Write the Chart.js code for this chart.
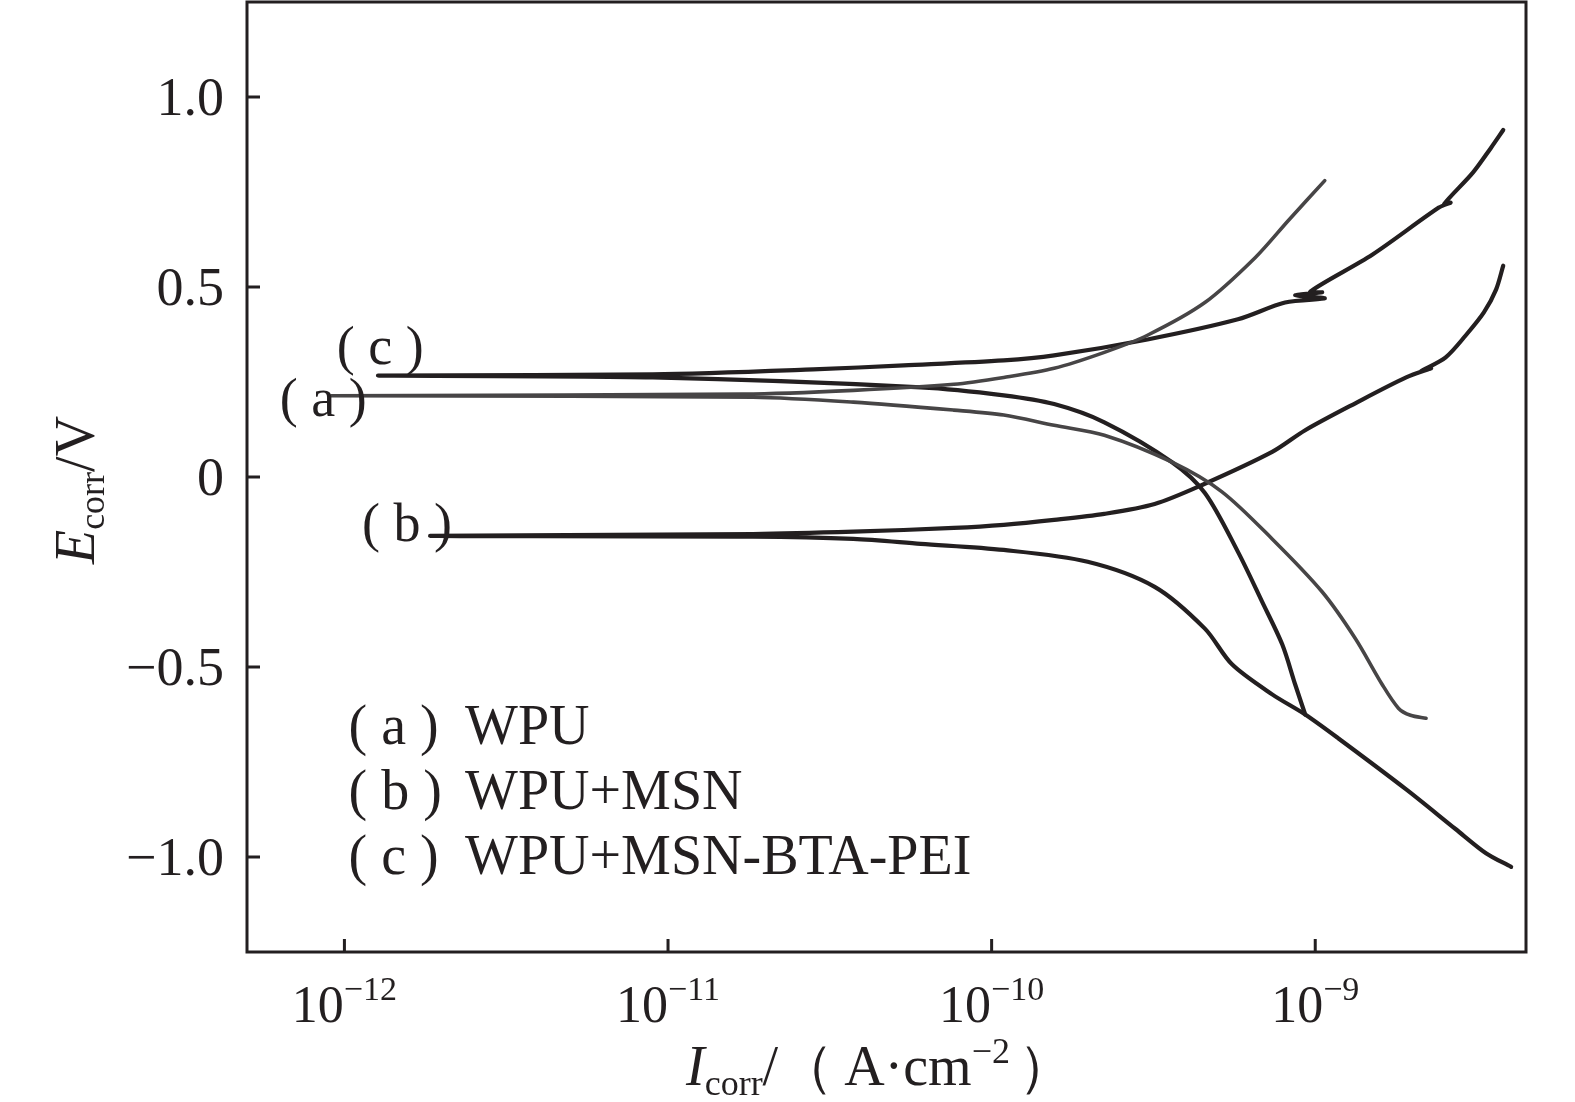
<!DOCTYPE html>
<html>
<head>
<meta charset="utf-8">
<script src="https://cdn.jsdelivr.net/npm/chart.js@4.4.1/dist/chart.umd.min.js"></script>
<style>
  html, body { margin: 0; padding: 0; background: #fff; }
  #wrap { width: 1575px; height: 1102px; position: relative; }
</style>
</head>
<body>
<div id="wrap"><canvas id="c"></canvas></div>
<script>
// ---- axis ticks ----
const xTickValues = [1e-12, 1e-11, 1e-10, 1e-9];
const xTickExponents = ['\u221212', '\u221211', '\u221210', '\u22129'];
const yTickValues = [-1.0, -0.5, 0, 0.5, 1.0];
const yTickLabels = ['\u22121.0', '\u22120.5', '0', '0.5', '1.0'];

// ---- series: current density (A/cm2) and potential (V) ----
// (a) WPU
const aAnodicI = [9.12e-13, 1.71e-11, 3.74e-11, 7.64e-11, 1.09e-10, 1.56e-10, 2.23e-10, 3.03e-10, 4.56e-10, 6.52e-10, 8.26e-10, 1.07e-9];
const aAnodicE = [0.214, 0.218, 0.228, 0.244, 0.262, 0.286, 0.328, 0.373, 0.459, 0.577, 0.675, 0.780];
const aCathodicI = [9.12e-13, 1.83e-11, 3.74e-11, 7.64e-11, 1.09e-10, 1.56e-10, 2.23e-10, 3.61e-10, 5.15e-10, 7.36e-10, 1.05e-9, 1.33e-9, 1.61e-9, 1.81e-9, 1.97e-9, 2.20e-9];
const aCathodicE = [0.214, 0.210, 0.197, 0.176, 0.163, 0.136, 0.110, 0.039, -0.039, -0.163, -0.302, -0.425, -0.546, -0.609, -0.627, -0.635];
// (b) WPU+MSN
const bAnodicI = [1.84e-12, 1.83e-11, 3.74e-11, 7.64e-11, 1.09e-10, 1.56e-10, 2.23e-10, 3.19e-10, 4.47e-10, 7.36e-10, 9.31e-10, 1.33e-9, 1.91e-9, 2.28e-9, 2.12e-9, 2.53e-9, 2.92e-9, 3.32e-9, 3.62e-9, 3.81e-9];
const bAnodicE = [-0.155, -0.150, -0.144, -0.134, -0.126, -0.113, -0.097, -0.071, -0.021, 0.066, 0.123, 0.194, 0.262, 0.286, 0.278, 0.315, 0.373, 0.433, 0.493, 0.556];
const bCathodicI = [1.84e-12, 1.83e-11, 3.74e-11, 6.04e-11, 1.09e-10, 1.98e-10, 3.19e-10, 4.56e-10, 5.53e-10, 7.36e-10, 9.31e-10, 1.18e-9, 1.91e-9, 2.72e-9, 3.37e-9, 4.03e-9];
const bCathodicE = [-0.155, -0.157, -0.163, -0.176, -0.192, -0.223, -0.289, -0.399, -0.493, -0.572, -0.625, -0.688, -0.822, -0.927, -0.990, -1.026];
// (c) WPU+MSN-BTA-PEI
const cAnodicI = [1.27e-12, 8.97e-12, 2.81e-11, 5.35e-11, 1.09e-10, 1.56e-10, 3.03e-10, 5.77e-10, 8.07e-10, 1.07e-9, 8.67e-10, 1.05e-9, 9.65e-10, 1.50e-9, 2.41e-9, 2.62e-9, 2.50e-9, 3.07e-9, 3.49e-9, 3.81e-9];
const cAnodicE = [0.267, 0.270, 0.283, 0.294, 0.307, 0.320, 0.362, 0.415, 0.459, 0.470, 0.478, 0.486, 0.488, 0.585, 0.709, 0.722, 0.718, 0.801, 0.866, 0.913];
const cCathodicI = [1.27e-12, 8.97e-12, 6.04e-11, 1.09e-10, 1.56e-10, 2.23e-10, 3.61e-10, 4.56e-10, 5.77e-10, 6.85e-10, 7.91e-10, 8.67e-10, 9.31e-10];
const cCathodicE = [0.267, 0.262, 0.236, 0.215, 0.192, 0.144, 0.039, -0.042, -0.197, -0.328, -0.441, -0.546, -0.625];

// ---- text ----
const curveTags = ['( a )', '( b )', '( c )'];
const seriesNames = ['WPU', 'WPU+MSN', 'WPU+MSN-BTA-PEI'];
// anchor (I, E) for curve tags drawn on the plot
const tagI = [8.6e-13, 1.56e-12, 1.29e-12];
const tagE = [0.197, -0.131, 0.336];
// legend text block anchors
const legendTagI = 1.03e-12;
const legendNameI = 2.36e-12;
const legendRowE = [-0.664, -0.835, -1.005];

function curve(cI, cE, aI, aE) {
  const pts = [];
  for (let i = cI.length - 1; i >= 1; i--) pts.push({x: cI[i], y: cE[i]});
  for (let i = 0; i < aI.length; i++) pts.push({x: aI[i], y: aE[i]});
  return pts;
}

const SERIF = '"Liberation Serif", "Times New Roman", serif';
const INK = '#231f20';

const drawPlugin = {
  id: 'decor',
  afterDraw(chart) {
    const {ctx, chartArea: ca, scales: {x, y}} = chart;
    ctx.save();
    ctx.strokeStyle = INK;
    ctx.fillStyle = INK;
    ctx.lineWidth = 3;
    ctx.strokeRect(ca.left, ca.top, ca.right - ca.left, ca.bottom - ca.top);
    ctx.beginPath();
    yTickValues.forEach(v => { const p = y.getPixelForValue(v); ctx.moveTo(ca.left, p); ctx.lineTo(ca.left + 13, p); });
    xTickValues.forEach(v => { const p = x.getPixelForValue(v); ctx.moveTo(p, ca.bottom); ctx.lineTo(p, ca.bottom - 13); });
    ctx.stroke();

    // y tick labels
    ctx.font = '54px ' + SERIF;
    ctx.textAlign = 'right';
    ctx.textBaseline = 'alphabetic';
    yTickValues.forEach((v, i) => {
      const p = y.getPixelForValue(v);
      ctx.fillText(yTickLabels[i], ca.left - 23, p + 18);
    });

    // x tick labels with superscript exponent
    xTickValues.forEach((v, i) => {
      const p = x.getPixelForValue(v);
      ctx.font = '52px ' + SERIF;
      const wBase = ctx.measureText('10').width;
      ctx.font = '34px ' + SERIF;
      const wExp = ctx.measureText(xTickExponents[i]).width;
      const left = p - (wBase + wExp) / 2;
      ctx.textAlign = 'left';
      ctx.font = '52px ' + SERIF;
      ctx.fillText('10', left, ca.bottom + 70);
      ctx.font = '34px ' + SERIF;
      ctx.fillText(xTickExponents[i], left + wBase, ca.bottom + 48);
    });

    // curve tags on plot
    ctx.font = '54px ' + SERIF;
    ctx.textAlign = 'center';
    ctx.textBaseline = 'middle';
    curveTags.forEach((t, i) => {
      ctx.fillText(t, x.getPixelForValue(tagI[i]), y.getPixelForValue(tagE[i]));
    });

    // legend text block
    ctx.font = '56px ' + SERIF;
    ctx.textAlign = 'left';
    legendRowE.forEach((e, i) => {
      const py = y.getPixelForValue(e);
      ctx.fillText(curveTags[i], x.getPixelForValue(legendTagI), py);
      ctx.fillText(seriesNames[i], x.getPixelForValue(legendNameI), py);
    });

    // y axis title: E_corr/V
    ctx.textBaseline = 'alphabetic';
    const yParts = [
      {t: 'E', f: 'italic 56px ' + SERIF, dy: 0},
      {t: 'corr', f: '36px ' + SERIF, dy: 10},
      {t: '/V', f: '56px ' + SERIF, dy: 0}
    ];
    let tw = 0;
    yParts.forEach(pt => { ctx.font = pt.f; pt.w = ctx.measureText(pt.t).width; tw += pt.w; });
    ctx.save();
    ctx.translate(94, 490);
    ctx.rotate(-Math.PI / 2);
    let cx = -tw / 2;
    yParts.forEach(pt => { ctx.font = pt.f; ctx.fillText(pt.t, cx, pt.dy); cx += pt.w; });
    ctx.restore();

    // x axis title: I_corr/（A·cm^-2）
    const xParts = [
      {t: 'I', f: 'italic 56px ' + SERIF, dy: 0, gap: 0},
      {t: 'corr', f: '36px ' + SERIF, dy: 10, gap: 0},
      {t: '/\uFF08', f: '56px ' + SERIF, dy: 0, gap: 10},
      {t: 'A\u00B7cm', f: '56px ' + SERIF, dy: 0, gap: 0},
      {t: '\u22122', f: '36px ' + SERIF, dy: -22, gap: 8},
      {t: '\uFF09', f: '56px ' + SERIF, dy: 0, gap: 0}
    ];
    tw = 0;
    xParts.forEach(pt => { ctx.font = pt.f; pt.w = ctx.measureText(pt.t).width + pt.gap; tw += pt.w; });
    cx = 880 - tw / 2;
    xParts.forEach(pt => { ctx.font = pt.f; ctx.fillText(pt.t, cx, 1085 + pt.dy); cx += pt.w; });
    ctx.restore();
  }
};

const lineStyle = (color, w) => ({
  borderColor: color, borderWidth: w, pointRadius: 0, fill: false,
  tension: 0.3, borderCapStyle: 'round', borderJoinStyle: 'round', showLine: true
});

new Chart(document.getElementById('c'), {
  type: 'scatter',
  data: {
    datasets: [
      Object.assign({label: seriesNames[0], data: curve(aCathodicI, aCathodicE, aAnodicI, aAnodicE)}, lineStyle('#474546', 3.6)),
      Object.assign({label: seriesNames[1], data: curve(bCathodicI, bCathodicE, bAnodicI, bAnodicE)}, lineStyle(INK, 4.2)),
      Object.assign({label: seriesNames[2], data: curve(cCathodicI, cCathodicE, cAnodicI, cAnodicE)}, lineStyle(INK, 4.2))
    ]
  },
  options: {
    responsive: true,
    maintainAspectRatio: false,
    animation: false,
    devicePixelRatio: 1,
    layout: {padding: {left: 0, right: 49, top: 2, bottom: 0}},
    plugins: {legend: {display: false}, tooltip: {enabled: false}},
    scales: {
      x: {
        type: 'logarithmic', min: 5e-13, max: 4.48e-9,
        grid: {display: false}, border: {display: false},
        ticks: {display: false},
        afterBuildTicks: s => { s.ticks = xTickValues.map(v => ({value: v})); },
        afterFit: s => { s.height = 1102 - 952; }
      },
      y: {
        type: 'linear', min: -1.25, max: 1.25,
        grid: {display: false}, border: {display: false},
        ticks: {display: false},
        afterBuildTicks: s => { s.ticks = yTickValues.map(v => ({value: v})); },
        afterFit: s => { s.width = 247; }
      }
    }
  },
  plugins: [drawPlugin]
});
</script>
</body>
</html>
